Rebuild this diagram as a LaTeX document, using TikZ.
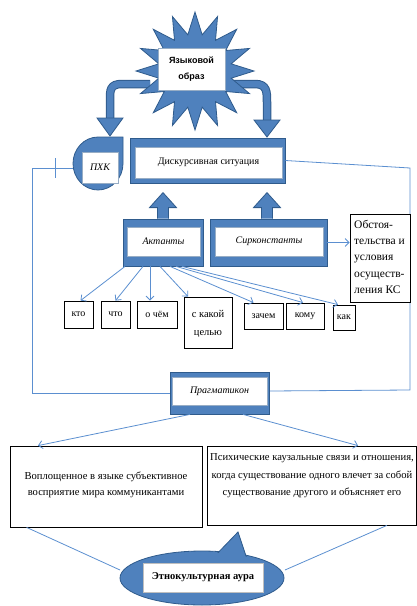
\documentclass[tikz,border=0pt]{standalone}
\usepackage{fontspec}
\setmainfont{Liberation Serif}
\newfontfamily\sansb{Liberation Sans}
\usetikzlibrary{shapes.geometric,arrows.meta,calc}
\definecolor{bfill}{HTML}{4F81BD}
\definecolor{bdark}{HTML}{2F5B8C}
\definecolor{lblue}{HTML}{5B8FD0}
\begin{document}
\begin{tikzpicture}[x=1pt,y=-1pt,
  blk/.style={fill=bfill, draw=bdark, line width=0.8pt},
  wbox/.style={fill=white, draw=bdark!50, line width=0.4pt, inner sep=0pt, font=\fontsize{10}{12}\selectfont},
  sbox/.style={draw=black, line width=0.8pt, fill=white, inner sep=0pt},
  lbl/.style={font=\fontsize{10}{12}\selectfont, inner sep=0pt},
  thinl/.style={draw=lblue, line width=0.8pt},
  arr/.style={thinl, -{Straight Barb[length=4pt,width=8pt]}},
]
\useasboundingbox (0,0) rectangle (417,606);

% curved block arrows from the star
\coordinate (lstart) at (150,84);
\coordinate (rstart) at (230,84);
\foreach \c/\w in {bdark/8.5pt, bfill/6.5pt}{
  \draw[\c, line width=\w] (lstart) -- (122,84) .. controls (110,84) and (110,90) .. (110,100) -- (110,119);
  \draw[\c, line width=\w] (rstart) -- (255,84) .. controls (267,84) and (267,92) .. (267,102) -- (267,121);
}
\draw[blk] (97,118) -- (123,118) -- (110,136) -- cycle;
\draw[blk] (254,120) -- (280,120) -- (267,137) -- cycle;

% star
\node[star, star points=16, star point ratio=1.6, minimum size=118pt, blk, inner sep=0pt] (star) at (195,71) {};
\node[wbox, minimum width=67pt, minimum height=42pt, font=\sansb\bfseries\fontsize{9}{16}\selectfont, align=center] (imgtxt) at (191.5,69) {Языковой\\образ};

% loop lines
\coordinate (ll1) at (32,168);
\coordinate (ll2) at (32,393);
\coordinate (rl1) at (410,168);
\coordinate (rl2) at (410,390);

% PHK teardrop
\draw[blk] (123,137) -- (123,163.5) .. controls (123,178.1) and (111.8,190) .. (98,190)
  .. controls (84.2,190) and (73,178.1) .. (73,163.5)
  .. controls (73,148.9) and (84.2,137) .. (98,137) -- cycle;
\node[wbox, minimum width=36pt, minimum height=31pt, font=\itshape\fontsize{10}{12}\selectfont] (phk) at (100,167.5) {ПХК};
\coordinate (phkw) at (73.3,168);

% discursive situation
\node[blk, minimum width=155pt, minimum height=45pt, inner sep=0pt] (disc) at (207.5,160.5) {};
\node[wbox, minimum width=147pt, minimum height=31pt] (disct) at (208.5,162.5) {Дискурсивная ситуация};

\draw[thinl] (phkw) -- (ll1) -- (ll2) -- (170,393);
\draw[thinl] (55,158) -- (55,178);
\draw[thinl] (disc.east) -- (rl1) -- (rl2) -- (269,391);

% actants / circumstants
\node[blk, minimum width=80pt, minimum height=47pt, inner sep=0pt] (act) at (163,242.5) {};
\node[wbox, minimum width=73pt, minimum height=29pt, font=\itshape\fontsize{10}{12}\selectfont] (actt) at (163.5,241.5) {Актанты};
\node[blk, minimum width=117pt, minimum height=47pt, inner sep=0pt] (sirk) at (268.5,242.5) {};
\node[wbox, minimum width=108pt, minimum height=29pt, font=\itshape\fontsize{10}{12}\selectfont] (sirkt) at (269,241.5) {Сирконстанты};

% up block arrows
\foreach \n/\dx in {act/0, sirk/-1.5}{
  \draw[blk] ([xshift=\dx pt-5.5pt]\n.north) -- ([xshift=\dx pt-5.5pt, yshift=11pt]\n.north)
    -- ([xshift=\dx pt-13.5pt, yshift=11pt]\n.north) -- ([xshift=\dx pt, yshift=26pt]\n.north)
    -- ([xshift=\dx pt+13.5pt, yshift=11pt]\n.north) -- ([xshift=\dx pt+5.5pt, yshift=11pt]\n.north)
    -- ([xshift=\dx pt+5.5pt]\n.north);
}

% circumstances box
\node[sbox, minimum width=60pt, minimum height=88pt] (obst) at (380,258) {};
\node[anchor=north west, inner sep=0pt, align=left, font=\fontsize{11.5}{16.2}\selectfont] at (354,220) {Обстоя-\\тельства и\\условия\\осуществ-\\ления КС};
\draw[arr] (sirk.east) -- (obst.west |- sirk.east) ;

% small boxes
\node[sbox, minimum width=29pt, minimum height=27pt, lbl] (kto) at (78.5,314.5) {кто};
\node[sbox, minimum width=29pt, minimum height=27pt, lbl] (chto) at (115.5,314.5) {что};
\node[sbox, minimum width=40pt, minimum height=27pt, lbl] (ochem) at (157,314.5) {о чём};
\node[sbox, minimum width=48pt, minimum height=51pt] (cel) at (208,322.5) {};
\node[lbl, align=center, font=\fontsize{10.5}{18}\selectfont] at (208,324) {с какой\\целью};
\node[sbox, minimum width=39pt, minimum height=26pt, lbl] (zachem) at (263.5,316) {зачем};
\node[sbox, minimum width=38pt, minimum height=26pt, lbl] (komu) at (305,316) {кому};
\node[sbox, minimum width=22pt, minimum height=25pt, lbl] (kak) at (344,317.5) {как};

\draw[arr] ([xshift=-38pt]act.south) -- ([xshift=2pt]kto.north);
\draw[arr] ([xshift=-20pt]act.south) -- ([xshift=0pt]chto.north);
\draw[arr] ([xshift=-13pt]act.south) -- ([xshift=-7pt]ochem.north);
\draw[arr] ([xshift=-3pt]act.south) -- ([xshift=-20pt]cel.north);
\draw[arr] ([xshift=7pt]act.south) -- ([xshift=-10pt]zachem.north);
\draw[arr] ([xshift=13pt]act.south) -- ([xshift=-2pt]komu.north);
\draw[arr] ([xshift=19pt]act.south) -- ([xshift=-6pt]kak.north);

% pragmaticon
\node[blk, minimum width=99pt, minimum height=42pt, inner sep=0pt] (prag) at (219.5,393) {};
\node[wbox, minimum width=95pt, minimum height=28pt, font=\itshape\fontsize{10}{12}\selectfont] (pragt) at (219.5,391) {Прагматикон};

% bottom boxes
\node[sbox, minimum width=192pt, minimum height=81pt] (lbox) at (106,486.5) {};
\node[lbl, align=center, font=\fontsize{10.6}{16.5}\selectfont] at (106,485) {Воплощенное в языке субъективное\\восприятие мира коммуникантами};
\node[sbox, minimum width=209pt, minimum height=79pt] (rbox) at (311.5,485.5) {};
\node[lbl, align=center, font=\fontsize{10.6}{17.5}\selectfont] at (312,476) {Психические каузальные связи и отношения,\\когда существование одного влечет за собой\\существование другого и объясняет его};

\draw[arr] ([xshift=-29.5pt]prag.south) -- ([xshift=-68pt]lbox.north);
\draw[arr] ([xshift=23.5pt]prag.south) -- ([xshift=46.5pt]rbox.north);

% ethno-cultural aura callout
\coordinate (tail) at (238,532);
\filldraw[blk] (202,578) ellipse [x radius=82, y radius=27];
\filldraw[blk] (211,560) -- (tail) -- (248,562) -- cycle;
\fill[bfill] (202,578) ellipse [x radius=80.5, y radius=25.5];
\node[fill=white, draw=black!25, line width=0.4pt, minimum width=120pt, minimum height=29pt, inner sep=0pt, font=\bfseries\fontsize{10.5}{12}\selectfont] (aura) at (203,577.5) {Этнокультурная аура};
\coordinate (auraw) at (120,570);
\coordinate (aurae) at (285,570);
\draw[thinl] ([xshift=17pt]lbox.south west) -- (auraw);
\draw[thinl] ([xshift=-29.5pt]rbox.south east) -- (aurae);
\end{tikzpicture}
\end{document}
